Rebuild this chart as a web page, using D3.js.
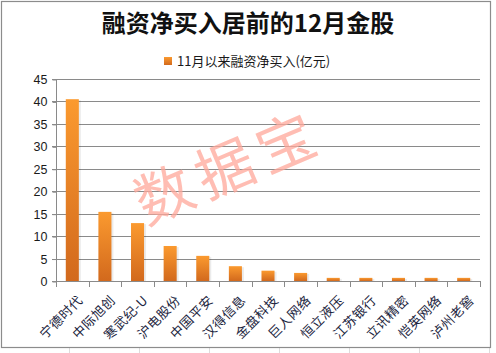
<!DOCTYPE html>
<html>
<head>
<meta charset="utf-8">
<script src="https://cdn.jsdelivr.net/npm/d3@7/dist/d3.min.js"></script>
<style>
html,body{margin:0;padding:0;background:#fff;}
svg{display:block;}
text{font-family:"Noto Sans CJK SC","Noto Sans",sans-serif;}
</style>
</head>
<body>
<svg id="c" width="496" height="353"></svg>
<script>
const categories = ["宁德时代","中际旭创","寒武纪-U","沪电股份","中国平安","汉得信息","金盘科技","巨人网络","恒立液压","江苏银行","立讯精密","恺英网络","泸州老窖"];
const values = [40.5, 15.4, 12.9, 7.8, 5.6, 3.3, 2.3, 1.8, 0.7, 0.7, 0.7, 0.7, 0.7];
const yTicks = [0,5,10,15,20,25,30,35,40,45];
const title = "融资净买入居前的12月金股";
const seriesName = "11月以来融资净买入(亿元)";
const watermark = "数据宝";

const svg = d3.select("#c");
const W = 496, H = 353;

// faint spreadsheet cell lines outside the frame
const cellXs = [69,139,209,279,349,419,489];
svg.selectAll(".cell").data(cellXs).enter().append("line")
  .attr("x1",d=>d+0.5).attr("x2",d=>d+0.5).attr("y1",348).attr("y2",H)
  .attr("stroke","#dcdcdc");

// frame
svg.append("rect").attr("x",1.5).attr("y",1.5).attr("width",489).attr("height",346)
  .attr("fill","#fff").attr("stroke","#8c8c8c").attr("stroke-width",1.2);

const defs = svg.append("defs");
const grad = defs.append("linearGradient").attr("id","bg").attr("x1",0).attr("y1",0).attr("x2",0).attr("y2",1);
grad.append("stop").attr("offset","0%").attr("stop-color","#fb9a2f");
grad.append("stop").attr("offset","100%").attr("stop-color","#d2691d");

const x = d3.scaleBand().domain(categories).range([56,480]).paddingInner(0.6).paddingOuter(0.3);
const y = d3.scaleLinear().domain([0,45]).range([281,79]);

// gridlines
svg.append("g").selectAll("line").data(yTicks.filter(d=>d>0)).enter().append("line")
  .attr("x1",52).attr("x2",480).attr("y1",d=>Math.round(y(d))+0.5).attr("y2",d=>Math.round(y(d))+0.5)
  .attr("stroke","#8a8a8a").attr("stroke-width",1);

// y axis
const yAxis = d3.axisLeft(y).tickValues(yTicks).tickSize(4).tickPadding(5);
const gy = svg.append("g").attr("transform","translate(56.5,0.5)").call(yAxis);
gy.select(".domain").attr("stroke","#8a8a8a").attr("d","M0,"+Math.round(y(45))+"V"+Math.round(y(0)));
gy.selectAll(".tick line").attr("stroke","#8a8a8a");
gy.selectAll(".tick text").attr("fill","#1a1a1a").style("font-size","12.5px").style("font-family","'Liberation Sans',Arial,sans-serif");

// bars shadow
svg.append("g").selectAll("rect").data(values).enter().append("rect")
  .attr("x",(d,i)=>x(categories[i])+2).attr("y",d=>y(d)+1)
  .attr("width",x.bandwidth()).attr("height",d=>y(0)-y(d)-1)
  .attr("fill","#000").attr("opacity",0.08);
// bars
svg.append("g").selectAll("rect").data(values).enter().append("rect")
  .attr("x",(d,i)=>x(categories[i])).attr("y",d=>y(d))
  .attr("width",x.bandwidth()).attr("height",d=>y(0)-y(d))
  .attr("fill","url(#bg)");

// x axis line and ticks at band boundaries
const step = x.step();
svg.append("line").attr("x1",52).attr("x2",480).attr("y1",281.5).attr("y2",281.5).attr("stroke","#8a8a8a");
svg.append("g").selectAll("line").data(d3.range(categories.length+1)).enter().append("line")
  .attr("x1",i=>Math.round(56+i*step)+0.5).attr("x2",i=>Math.round(56+i*step)+0.5)
  .attr("y1",281).attr("y2",287).attr("stroke","#8a8a8a");

// x labels
svg.append("g").selectAll("text").data(categories).enter().append("text")
  .attr("transform",d=>`translate(${x(d)+x.bandwidth()/2+8},${298}) rotate(-45)`)
  .attr("text-anchor","end").attr("dy","0.35em")
  .attr("fill","#1c2540").style("font-size","13px").style("letter-spacing","0.5px").text(d=>d);

// title
svg.append("text").attr("x",248).attr("y",32).attr("text-anchor","middle")
  .attr("fill","#111").style("font-size","24px").style("font-weight","bold").text(title);

// legend
svg.append("rect").attr("x",164).attr("y",57).attr("width",8).attr("height",8).attr("fill","url(#bg)");
svg.append("text").attr("x",177).attr("y",66).attr("fill","#1a1a1a")
  .style("font-size","13px").text(seriesName);

// watermark
svg.append("text").attr("transform","translate(229,168) rotate(-23)")
  .attr("text-anchor","middle").attr("dy","0.35em")
  .attr("fill","#ffa89a").attr("opacity",0.75)
  .style("font-size","58px").style("letter-spacing","8px").text(watermark);
</script>
</body>
</html>
